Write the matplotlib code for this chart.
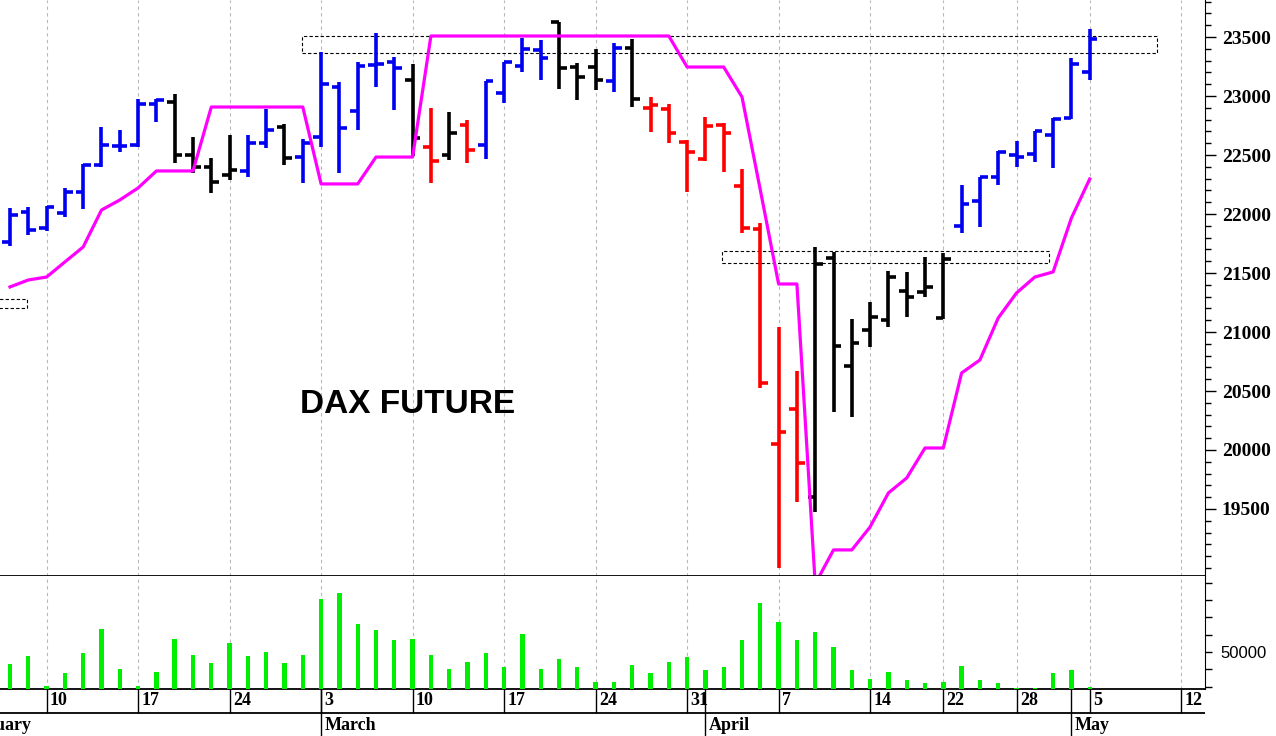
import matplotlib.pyplot as plt
import numpy as np
import pandas as pd
from matplotlib.patches import Rectangle
from matplotlib.ticker import MultipleLocator

# trading calendar (exchange holidays removed)
holidays = ['2025-04-18', '2025-04-21', '2025-05-01']
axis_days = pd.bdate_range('2025-02-03', '2025-05-16').drop(pd.to_datetime(holidays))
first_bar, last_bar = '2025-02-06', '2025-05-05'

# daily OHLC, Feb 6 .. May 5
opens = [21763, 22017, 21882, 22009, 22187, 22416, 22580, 22585, 22933, 22950,
         22500, 22399, 22331, 22365, 22602, 22738, 22483, 22653, 23077, 22873,
         23263, 23289, 23136, 22568, 22500, 22755, 22585, 23026, 23255, 23390,
         23628, 23246, 23246, 23128, 23407, 22899, 22890, 22611, 22466, 22755,
         22238, 21873, 20051, 20348, 19602, 21627, 20712, 21018, 21102, 21348,
         21339, 21119, 21899, 22111, 22314, 22500, 22509, 22670, 22814, 23204]
highs = [22051, 22060, 22068, 22221, 22424, 22738, 22712, 22975, 22975, 23017,
         22653, 22475, 22670, 22670, 22890, 22763, 22636, 23373, 23119, 23289,
         23534, 23331, 23272, 22899, 22865, 22797, 23128, 23289, 23492, 23475,
         23628, 23280, 23399, 23450, 23483, 22992, 22933, 22627, 22822, 22772,
         22382, 21924, 21043, 20670, 21721, 21678, 21110, 21255, 21517, 21509,
         21636, 21670, 22246, 22314, 22534, 22619, 22704, 22814, 23322, 23568]
lows = [21729, 21822, 21856, 21975, 22043, 22399, 22526, 22568, 22780, 22433,
        22348, 22178, 22288, 22314, 22560, 22416, 22263, 22568, 22348, 22712,
        23077, 22882, 22492, 22263, 22458, 22433, 22466, 22941, 23204, 23136,
        23060, 22966, 23051, 23034, 22907, 22695, 22602, 22187, 22450, 22356,
        21839, 20526, 19000, 19560, 19475, 20322, 20280, 20873, 21043, 21127,
        21297, 21110, 21839, 21890, 22246, 22399, 22441, 22390, 22805, 23136]
closes = [21992, 21865, 22060, 22187, 22416, 22585, 22575, 22933, 22966, 22500,
          22399, 22272, 22373, 22602, 22712, 22475, 22602, 23102, 22729, 23255,
          23272, 23238, 22644, 22450, 22687, 22543, 23128, 23289, 23399, 23322,
          23238, 23161, 23136, 23407, 22975, 22924, 22687, 22526, 22746, 22687,
          21882, 20568, 20153, 19890, 21577, 20882, 20907, 21127, 21466, 21297,
          21382, 21619, 22085, 22314, 22526, 22483, 22704, 22805, 23272, 23483]
bar_colors = list("bbbbbbbbbkkkkbbkbbbbbbkrkrbbbbkkkbkrrrrrrrrrkkkkkkkkbbbbbbbb")

# trailing stop line
stop_line = [21382, 21441, 21466, 21594, 21721, 22034, 22119, 22221, 22365, 22365,
             22365, 22907, 22907, 22907, 22907, 22907, 22907, 22255, 22255, 22255,
             22483, 22483, 22483, 23509, 23509, 23509, 23509, 23509, 23509, 23509,
             23509, 23509, 23509, 23509, 23509, 23509, 23509, 23246, 23246, 23246,
             22992, 22204, 21407, 21407, 18865, 19153, 19153, 19348, 19636, 19763,
             20017, 20017, 20653, 20763, 21119, 21331, 21466, 21509, 21966, 22297]

volume = [43200, 47500, 30200, 37700, 49200, 63100, 40200, 30200, 38400, 57300,
          48500, 43500, 55200, 47500, 50000, 43500, 48300, 80500, 83900, 66000,
          62500, 56900, 57300, 48300, 40000, 44200, 49400, 41100, 60200, 40200,
          46000, 41100, 32700, 32700, 42700, 37700, 44200, 46900, 39600, 41100,
          56900, 78100, 67300, 56900, 61600, 52700, 39600, 34400, 38400, 33800,
          31900, 32700, 41700, 33800, 31900, 29400, 29400, 37700, 39600, 29600]

# dashed zones: (x from, x to) in trading days, (low, high)
zones = [(18.95, 65.7, 23365, 23509),
         (41.9, 59.75, 21585, 21687),
         (1.5, 3.93, 21203, 21280)]

palette = {'b': '#0000f0', 'k': 'black', 'r': '#ff0000'}
serif = 'Liberation Serif'
x_left, x_right = 2.454, 68.3

idx = np.arange(len(axis_days))
x = idx[(axis_days >= first_bar) & (axis_days <= last_bar)]
cols = [palette[c] for c in bar_colors]

weeks = axis_days.isocalendar().week.values
week_ticks = [i for i in idx if i == 0 or weeks[i] != weeks[i - 1]]
month_ticks = [i for i in idx if i == 0 or axis_days[i].month != axis_days[i - 1].month]

W, H = 1276, 736
fig = plt.figure(figsize=(W / 100, H / 100), dpi=100)
ax = fig.add_axes([0, 1 - 576 / H, 1205 / W, 576 / H])
axv = fig.add_axes([0, 1 - 689 / H, 1205 / W, 113 / H], sharex=ax)
axd = fig.add_axes([0, 0, 1205 / W, 47 / H], sharex=ax)

# price bars
ax.vlines(x, lows, highs, colors=cols, lw=2.6, zorder=3)
ax.hlines(opens, x - 0.42, x, colors=cols, lw=2.6, zorder=3)
ax.hlines(closes, x, x + 0.42, colors=cols, lw=2.6, zorder=3)
ax.plot(x, stop_line, color='#ff00ff', lw=2.3, zorder=4)

for x0, x1, y0, y1 in zones:
    ax.add_patch(Rectangle((x0, y0), x1 - x0, y1 - y0, fill=False, ec='black',
                           lw=0.8, ls=(0, (3, 2)), zorder=2))

ax.text(0.249, 0.297, 'DAX FUTURE', transform=ax.transAxes, fontsize=24,
        fontweight='bold', family='Liberation Sans', va='center', ha='left')

ax.set_ylim(18932, 23814)
ax.set_xticks(week_ticks)
ax.tick_params(axis='x', length=0, labelbottom=False)
ax.yaxis.tick_right()
ax.set_yticks(range(19500, 24000, 500))
ax.yaxis.set_minor_locator(MultipleLocator(100))
ax.tick_params(axis='y', which='major', length=8, width=1, pad=4,
               labelsize=14, labelfontfamily=serif)
ax.tick_params(axis='y', which='minor', length=4, width=1)
plt.setp(ax.get_yticklabels(), fontweight='bold')
ax.grid(axis='x', color='#b8b8b8', lw=0.8, ls=(0, (3, 3)))
for s in ['top', 'left']:
    ax.spines[s].set_visible(False)
ax.spines['bottom'].set_linewidth(1.3)
ax.spines['bottom'].set_zorder(5)

# volume
axv.bar(x, volume, width=0.24, color='#00ee00', zorder=3)
axv.set_ylim(28600, 93900)
axv.yaxis.tick_right()
axv.set_yticks(range(30000, 100000, 10000))
axv.set_yticklabels(['50000' if v == 50000 else '' for v in range(30000, 100000, 10000)])
axv.tick_params(axis='y', length=5, width=1, pad=6, labelsize=12,
                labelfontfamily='Liberation Sans')
axv.tick_params(axis='x', length=0, labelbottom=False)
axv.grid(axis='x', color='#b8b8b8', lw=0.8, ls=(0, (3, 3)))
for s in ['top', 'left']:
    axv.spines[s].set_visible(False)
axv.spines['bottom'].set_linewidth(1.3)

# date rows
axd.set_ylim(0, 1)
axd.axis('off')
row = 0.49
axd.axhline(row, color='black', lw=1.3)
axd.vlines(week_ticks, row, 1, color='black', lw=1)
axd.vlines(month_ticks, 0, 1, color='black', lw=1)
for t in week_ticks:
    if t < x_left:
        continue
    axd.text(t + 0.18, 0.75, str(axis_days[t].day), fontsize=13, fontweight='bold',
             family=serif, va='center', ha='left')
for t in month_ticks:
    axd.text(t + 0.18, 0.23, axis_days[t].strftime('%B'), fontsize=13,
             fontweight='bold', family=serif, va='center', ha='left')

ax.set_xlim(x_left, x_right)

fig.savefig('out.png', dpi=100)
